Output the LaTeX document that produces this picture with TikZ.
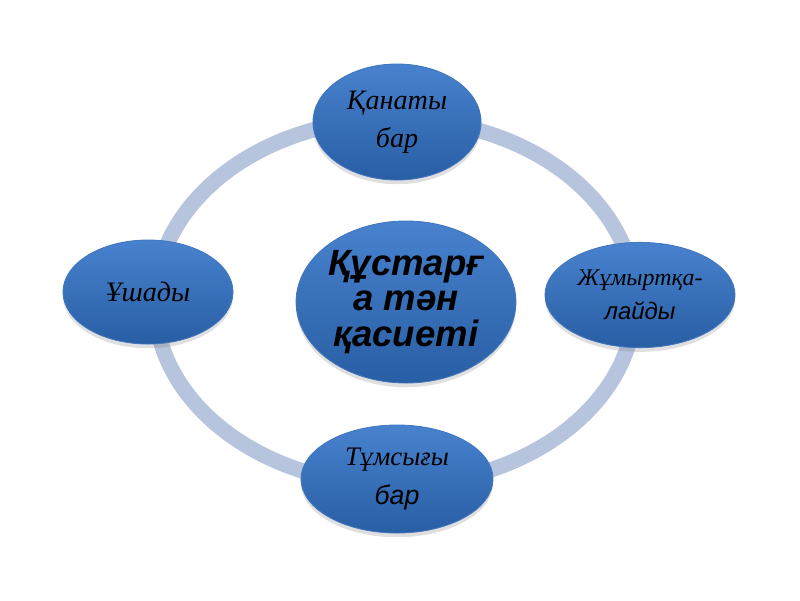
\documentclass[tikz,border=0pt]{standalone}
\usepackage{fontspec}
\setmainfont{Liberation Serif}
\setsansfont{Liberation Sans}
\usetikzlibrary{shapes.geometric,shadows}
\definecolor{ringcolor}{RGB}{182,196,221}
\definecolor{balltop}{RGB}{72,130,206}
\definecolor{ballbottom}{RGB}{40,94,164}
\definecolor{balledge}{RGB}{66,118,190}

\tikzset{
ball/.style={
ellipse,
draw=balledge,
line width=0.6pt,
top color=balltop,
bottom color=ballbottom,
drop shadow={opacity=0.25,shadow xshift=0pt,shadow yshift=-3pt},
align=center,
inner sep=0pt
}
}

\begin{document}
\begin{tikzpicture}[x=0.025cm,y=-0.025cm]

% Page
\useasboundingbox (0,0) rectangle (800,600);

% Ring
\draw[ringcolor,line width=11pt] (395,302) ellipse (240 and 183);

% Centre
\node[ball,minimum width=5.15cm,minimum height=4.05cm,
font=\fontsize{26}{25}\sffamily\bfseries\itshape] (centre) at (406,302)
{Құстарғ\\а тән\\қасиеті};

% Outer ellipses
\node[ball,minimum width=4.2cm,minimum height=2.9cm,
font=\fontsize{20}{27}\selectfont\itshape] (wings) at (397,122)
{Қанаты\\бар};
\node[ball,minimum width=4.75cm,minimum height=2.63cm,
font=\fontsize{17}{24}\selectfont\itshape] (eggs) at (640,295)
{Жұмыртқа-\\\sffamily лайды};
\node[ball,minimum width=4.8cm,minimum height=2.7cm,
font=\fontsize{19}{28}\selectfont\itshape] (beak) at (397,479)
{Тұмсығы\\\sffamily бар};
\node[ball,minimum width=4.25cm,minimum height=2.6cm,
font=\fontsize{20}{24}\selectfont\itshape] (flies) at (148,292)
{Ұшады};

\end{tikzpicture}
\end{document}
